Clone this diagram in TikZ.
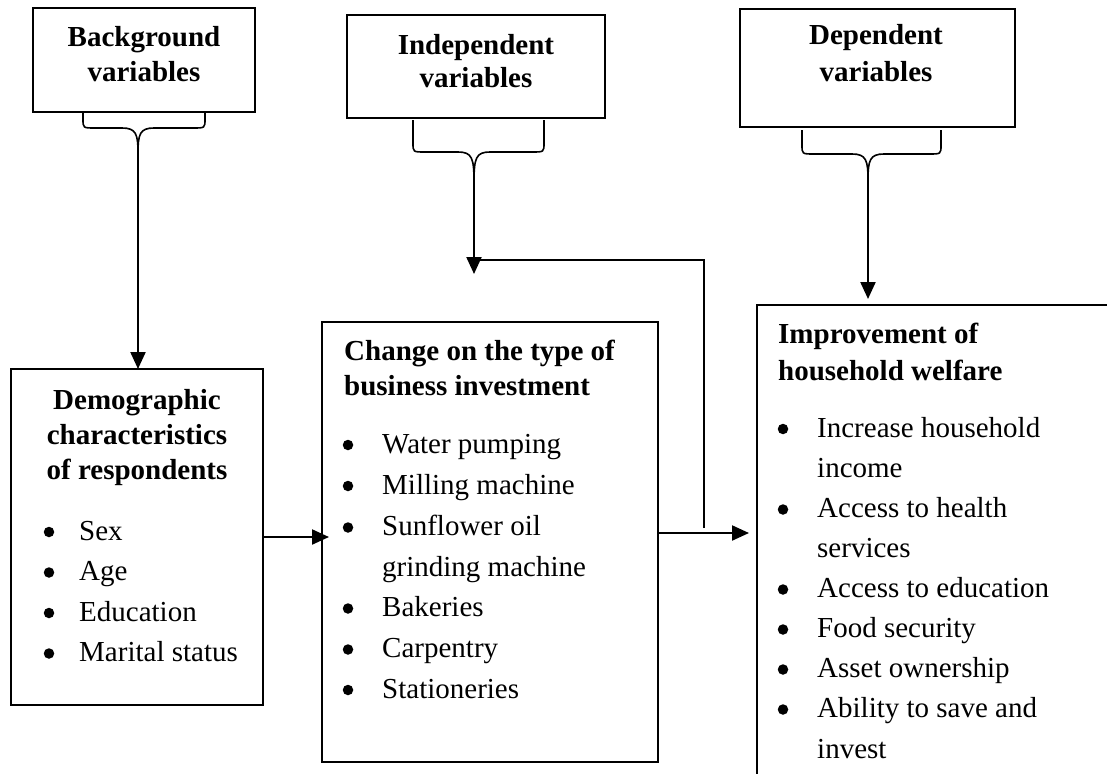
\documentclass[tikz,border=0pt]{standalone}
\usepackage{fontspec}
\setmainfont{Liberation Serif}
\usetikzlibrary{arrows.meta}
\newcommand\groupbrace[6]{%
  \draw[brace] (#1,#4) -- (#1,#5-9) .. controls (#1,#5) .. (#1+12,#5)
    -- (#3-16,#5) .. controls (#3-2,#5) and (#3,#5+6) .. (#3,#6);
  \draw[brace] (#2,#4) -- (#2,#5-9) .. controls (#2,#5) .. (#2-12,#5)
    -- (#3+16,#5) .. controls (#3+2,#5) and (#3,#5+6) .. (#3,#6);}
\begin{document}
\begin{tikzpicture}[x=1pt,y=-1pt,
  frame/.style={draw,line width=1.9pt,inner sep=0pt,outer sep=0pt,anchor=north west},
  head/.style={font=\fontsize{29}{35}\selectfont\bfseries,inner sep=0pt,anchor=base},
  headl/.style={font=\fontsize{29}{35}\selectfont\bfseries,inner sep=0pt,anchor=base west},
  txt/.style={font=\fontsize{29}{35}\selectfont,inner sep=0pt,anchor=base west},
  bul/.style={circle,fill,inner sep=0pt,minimum size=10.5pt},
  link/.style={line width=2pt},
  arr/.style={line width=2.2pt,-{Triangle[length=17pt,width=15pt]}},
  brace/.style={line width=1.6pt}]

\clip (0,0) rectangle (1107,773);
\fill[white] (0,0) rectangle (1107,773);

% variable group boxes along the top
\node[frame,minimum width=222pt,minimum height=104pt] (bg) at (33,8) {};
\node[frame,minimum width=258pt,minimum height=103pt] (ind) at (347,15) {};
\node[frame,minimum width=275pt,minimum height=118pt] (dep) at (740,9) {};

\node[head] (bg1) at (144,47) {Background};
\node[head] (bg2) at (144,82) {variables};
\node[head] (ind1) at (476,55) {Independent};
\node[head] (ind2) at (476,88) {variables};
\node[head] (dep1) at (876,45) {Dependent};
\node[head] (dep2) at (876,82) {variables};

% main boxes
\node[frame,minimum width=252pt,minimum height=336pt] (demo) at (11,369) {};
\node[frame,minimum width=336pt,minimum height=440pt] (mid) at (322,322) {};
\node[inner sep=0pt,outer sep=0pt,anchor=north west,minimum width=380pt,minimum height=500pt] (welf) at (757,305) {};
\draw[line width=1.9pt] (welf.south west) -- (welf.north west) -- (welf.north east);

% braces under the top boxes
\groupbrace{83}{205}{138}{113}{128}{153}
\groupbrace{413}{544}{474}{120}{152}{182}
\groupbrace{802}{941}{868}{130}{154}{180}
\coordinate (bgtip) at (138,153);
\coordinate (indtip) at (474,182);
\coordinate (deptip) at (868,180);

% connectors
\coordinate (indend) at (474,274);
\coordinate (fbcorner) at (704,260);
\coordinate (fbfoot) at (704,528);
\coordinate (depend) at (868,299);
\coordinate (demoout) at (263,537);
\coordinate (midin) at (329,537);
\coordinate (midout) at (658,533);
\coordinate (welfin) at (749,533);

\draw[arr] (bgtip) -- (bgtip |- demo.north);
\draw[arr] (indtip) -- (indend);
\draw[link] (fbfoot) -- (fbcorner) -- (indend |- fbcorner);
\draw[arr] (deptip) -- (depend);
\draw[arr] (demoout) -- (midin);
\draw[arr] (midout) -- (welfin);

% demographic characteristics
\node[head] (d1) at (137,409) {Demographic};
\node[head] (d2) at (137,444) {characteristics};
\node[head] (d3) at (137,479) {of respondents};
\foreach \y/\t [count=\i] in {540/Sex,580.5/Age,621/Education,661.5/Marital status}{
  \node[bul] (db\i) at (49,\y-8) {};
  \node[txt] (dt\i) at (79,\y) {\t};
}

% business investment
\node[headl] (m1) at (344,360) {Change on the type of};
\node[headl] (m2) at (344,395) {business investment};
\foreach \y/\t [count=\i] in {453/Water pumping,494/Milling machine,535.5/Sunflower oil,616.5/Bakeries,657.5/Carpentry,698/Stationeries}{
  \node[bul] (mb\i) at (348,\y-8) {};
  \node[txt] (mt\i) at (382,\y) {\t};
}
\node[txt] (mt3b) at (382,576) {grinding machine};

% household welfare
\node[headl] (w1) at (778,343) {Improvement of};
\node[headl] (w2) at (778,380) {household welfare};
\foreach \y/\t [count=\i] in {437/Increase household,517.5/Access to health,597.5/Access to education,637.5/Food security,677.5/Asset ownership,717.5/Ability to save and}{
  \node[bul] (wb\i) at (783,\y-8) {};
  \node[txt] (wt\i) at (817,\y) {\t};
}
\node[txt] (wt1b) at (817,477) {income};
\node[txt] (wt2b) at (817,557) {services};
\node[txt] (wt6b) at (817,758) {invest};

\end{tikzpicture}
\end{document}
